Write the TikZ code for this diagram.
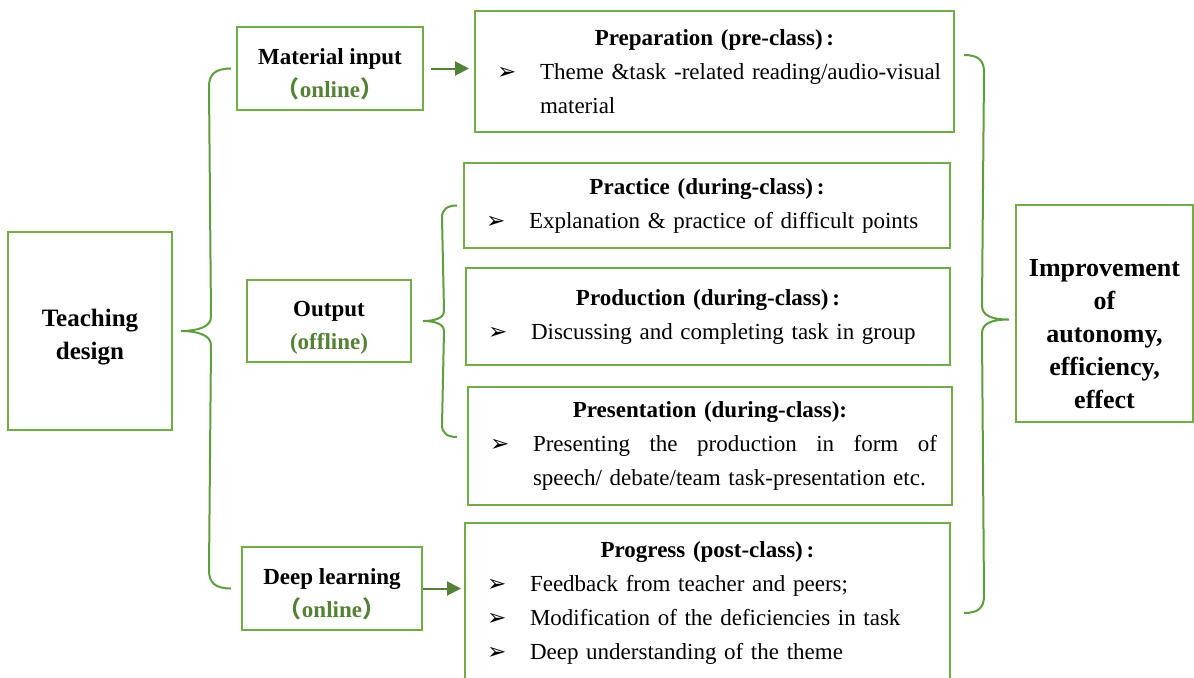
\documentclass[tikz,border=0pt]{standalone}
\usepackage{fontspec}
\setmainfont{Liberation Serif}
\newfontfamily\cjk{Noto Sans CJK SC}
\newfontfamily\sym{DejaVu Sans}
\usetikzlibrary{arrows.meta}
\definecolor{boxgreen}{HTML}{70AD47}
\definecolor{linegreen}{HTML}{5E9E3E}
\definecolor{textgreen}{HTML}{538135}
\newcommand{\itm}[1]{\par\noindent\hangindent=26.5pt\hangafter=1\makebox[26.5pt][l]{\hspace{5pt}{\sym ➢}}#1\par}
\newcommand{\onl}{{\cjk （}online{\cjk ）}}
\newcommand{\ttl}[1]{{\centering\bfseries #1\par}}
\newcommand{\sink}[1]{\rule{0pt}{#1}}

\tikzset{
  stage/.style={draw=boxgreen, line width=1pt, align=center, inner sep=0pt,
    font=\fontsize{11.5}{16.5}\selectfont\bfseries},
  panel/.style={draw=boxgreen, line width=1pt, inner xsep=6pt, inner ysep=0pt,
    font=\fontsize{11.5}{17}\selectfont},
  flow/.style={draw=textgreen, line width=1pt, -{Triangle[length=7pt,width=7pt]}},
  brace/.style={draw=linegreen, line width=1pt},
}

\begin{document}
\begin{tikzpicture}[x=0.5pt,y=-0.5pt]
  \useasboundingbox (0,0) rectangle (1194,677);
  % Left column
  \node[stage, minimum width=82pt, minimum height=99pt, font=\fontsize{12.5}{16.5}\selectfont\bfseries]
    (teach) at (90,331) {\sink{15pt}Teaching\\design};
  \node[stage, minimum width=93pt, minimum height=41.5pt] (mat) at (330,68.5)
    {\sink{14pt}Material input\\\textcolor{textgreen}{\onl}};
  \node[stage, minimum width=82pt, minimum height=41pt] (out) at (329,321)
    {\sink{14pt}Output\\\textcolor{textgreen}{(offline)}};
  \node[stage, minimum width=90pt, minimum height=41.5pt] (deep) at (332,588.5)
    {\sink{14pt}Deep learning\\\textcolor{textgreen}{\onl}};
  % Stages of the class
  \node[panel, text width=227.5pt, minimum height=60.5pt] (prep) at (714.5,71.5) {%
    \ttl{Preparation (pre-class)\,:}
    \itm{Theme \&task -related reading/audio-visual\hfil\break material}};
  \node[panel, text width=231pt, minimum height=42.5pt] (prac) at (707,205.5) {%
    \ttl{Practice (during-class)\,:}
    \itm{Explanation \& practice of difficult points}};
  \node[panel, text width=230pt, minimum height=48.5pt] (prod) at (708,316.5) {%
    \ttl{Production (during-class)\,:}
    \itm{Discussing and completing task in group}};
  \node[panel, text width=230pt, minimum height=59pt] (pres) at (710,446) {%
    \ttl{Presentation (during-class):}
    \itm{\hbox to 202pt{Presenting\hfill the\hfill production\hfill in\hfill form\hfill of}\hfil\break speech/ debate/team task-presentation etc.}};
  \node[panel, text width=230.5pt, minimum height=80pt] (prog) at (707.5,603) {%
    \ttl{Progress (post-class)\,:}
    \itm{Feedback from teacher and peers;}
    \itm{Modification of the deficiencies in task}
    \itm{Deep understanding of the theme}};
  % Result
  \node[stage, minimum width=88.5pt, minimum height=108.5pt, font=\fontsize{13}{16.5}\selectfont\bfseries]
    (impr) at (1104.5,313.5) {\sink{29pt}Improvement\\of\\autonomy,\\efficiency,\\effect};
  % Arrows
  \draw[flow] ([xshift=3.5pt]mat.east) -- ([xshift=-2.5pt]prep.west |- mat.east);
  \draw[flow] (deep.east) -- ([xshift=-1.5pt]prog.west |- deep.east);
  % Braces
  \draw[brace] ([xshift=-2.5pt]mat.west) .. controls +(-16,0) and +(0,-12) .. ++(-22,18)
    -- ([xshift=19pt,yshift=7pt]teach.east) .. controls +(0,10) and +(16,0) .. ([xshift=4pt]teach.east)
    .. controls +(16,0) and +(0,-10) .. ([xshift=19pt,yshift=-7pt]teach.east)
    -- ([xshift=-16pt,yshift=9pt]deep.west) .. controls +(0,12) and +(-16,0) .. ([xshift=-5pt]deep.west);
  \draw[brace] ([xshift=-3pt]prac.west) .. controls +(-10,0) and +(0,-8) .. ++(-15,12)
    -- ([xshift=16pt,yshift=5pt]out.east) .. controls +(0,7) and +(12,0) .. ([xshift=5.5pt]out.east)
    .. controls +(12,0) and +(0,-7) .. ([xshift=16pt,yshift=-5pt]out.east)
    -- ([xshift=-12.5pt,yshift=10.5pt]pres.west) .. controls +(0,8) and +(-10,0) .. ([xshift=-5pt,yshift=4.5pt]pres.west);
  \draw[brace] ([xshift=4.5pt,yshift=8.25pt]prep.east) .. controls +(14,0) and +(0,-12) .. ++(20,17)
    -- ([xshift=-16.5pt,yshift=4pt]impr.west) .. controls +(0,10) and +(-18,0) .. ([xshift=-3pt,yshift=-3pt]impr.west)
    .. controls +(-18,0) and +(0,-10) .. ([xshift=-16.5pt,yshift=-10pt]impr.west)
    -- ([xshift=16.5pt,yshift=3.5pt]prog.east) .. controls +(0,12) and +(14,0) .. ([xshift=6.5pt,yshift=-5pt]prog.east);
\end{tikzpicture}
\end{document}
